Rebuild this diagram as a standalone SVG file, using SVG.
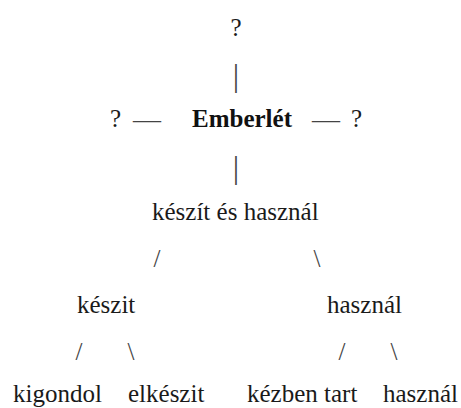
<svg xmlns="http://www.w3.org/2000/svg" width="461" height="408" viewBox="0 0 461 408">
<style>
  text { font-family: "Liberation Serif", "Times New Roman", serif; font-size: 25px; fill: #1a1a1a; }
  .b { font-weight: bold; fill: #111; }
  .c { fill: #444; }
  .bar { font-size: 32px; }
  .dash { font-size: 28px; }
  .m { text-anchor: middle; }
</style>
<rect width="461" height="408" fill="#ffffff"/>
<g id="connectors">
  <text class="c m bar" x="236" y="85.5">|</text>
  <text class="c m bar" x="236" y="178">|</text>
  <text class="c dash" x="133" y="128">—</text>
  <text class="c dash" x="312" y="128">—</text>
  <text class="c m" x="157" y="267">/</text>
  <text class="c m" x="317" y="267">\</text>
  <text class="c m" x="79" y="360">/</text>
  <text class="c m" x="131" y="360">\</text>
  <text class="c m" x="342" y="360">/</text>
  <text class="c m" x="394" y="360">\</text>
</g>
<g id="node-top"><text class="m" x="236" y="36">?</text></g>
<g id="node-left"><text x="110" y="127">?</text></g>
<g id="node-emberlet"><text class="b" x="192" y="127">Emberlét</text></g>
<g id="node-right"><text x="351" y="127">?</text></g>
<g id="node-keszit-es-hasznal"><text x="152" y="220">készít és használ</text></g>
<g id="node-keszit"><text x="77" y="313">készit</text></g>
<g id="node-hasznal"><text x="327" y="313">használ</text></g>
<g id="node-kigondol"><text x="13" y="402">kigondol</text></g>
<g id="node-elkeszit"><text x="128" y="402">elkészit</text></g>
<g id="node-kezben-tart"><text x="247" y="402">kézben tart</text></g>
<g id="node-hasznal2"><text x="383" y="402">használ</text></g>
</svg>
